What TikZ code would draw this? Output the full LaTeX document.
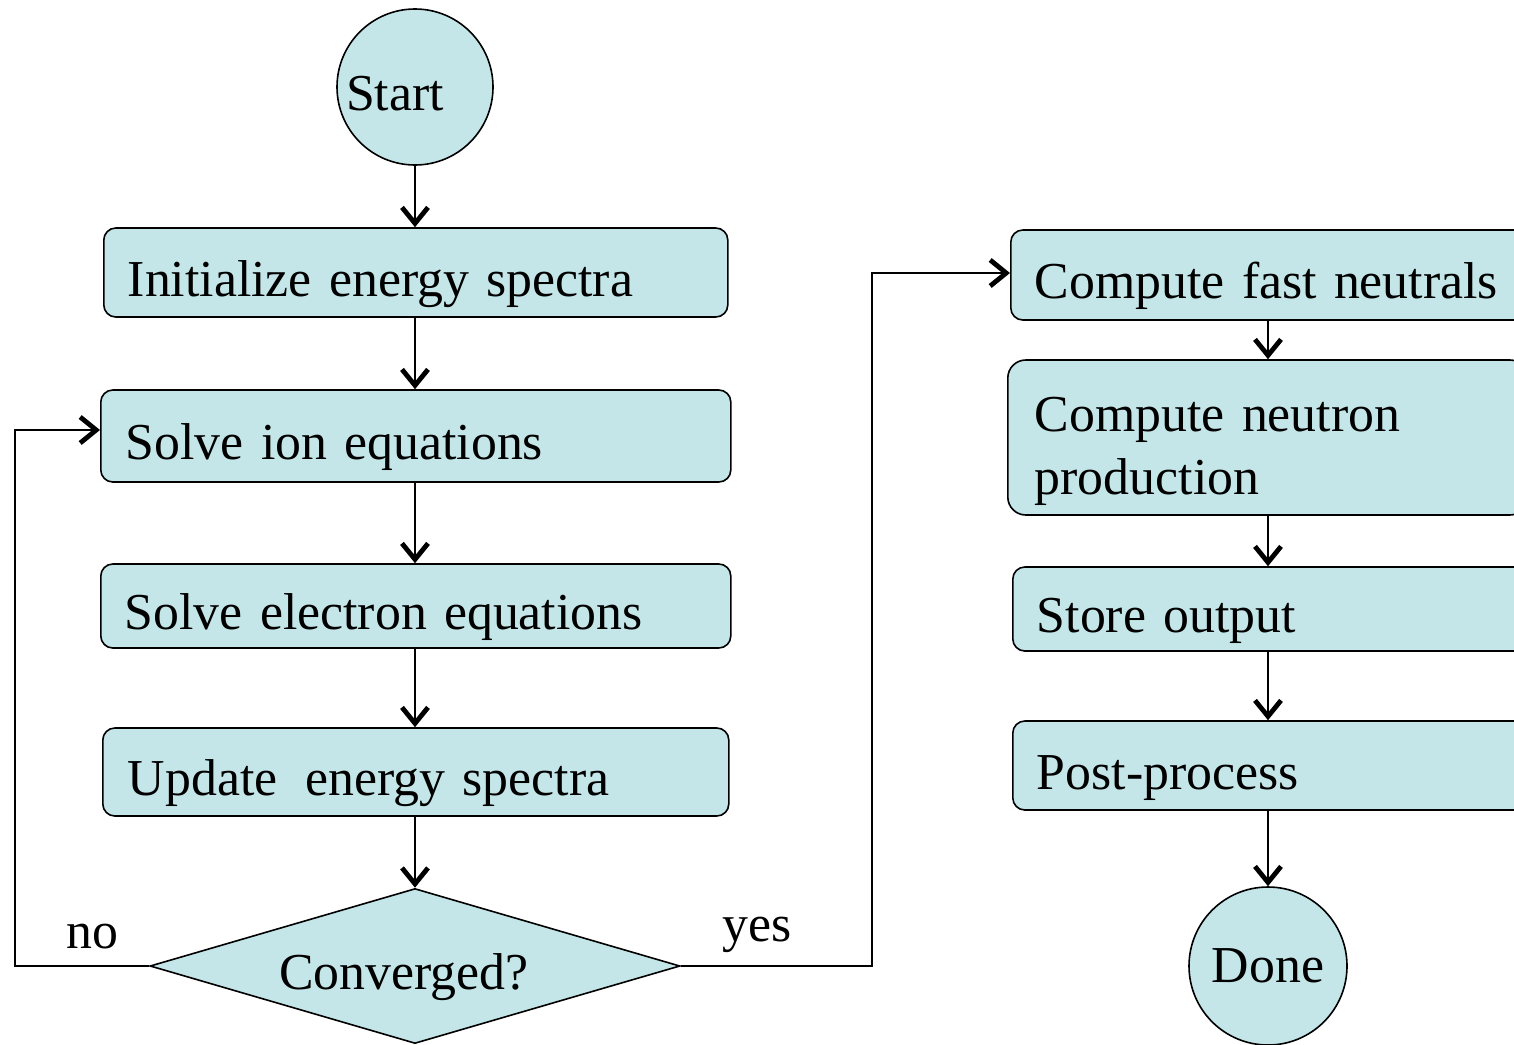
\documentclass[tikz,border=0pt]{standalone}
\usepackage{fontspec}
\setmainfont{Liberation Serif}
\usetikzlibrary{arrows.meta,shapes.geometric}
\definecolor{boxfill}{RGB}{196,230,232}
\begin{document}
\begin{tikzpicture}[x=0.5pt,y=-0.5pt,
  every node/.style={font=\fontsize{25.9}{31.5}\selectfont},
  box/.style={draw, fill=boxfill, line width=0.8pt, rounded corners=6pt, anchor=west,
    align=left, inner ysep=0pt, text height=25pt, text depth=1.5pt},
  term/.style={draw, fill=boxfill, line width=0.8pt, circle, inner sep=0pt},
  dec/.style={draw, fill=boxfill, line width=0.8pt, diamond, aspect=3.42, inner sep=0pt,
    text height=25pt, text depth=1.5pt},
  arr/.style={line width=1pt, -{Straight Barb[length=8pt,width=13pt,line width=2.4pt]}},
  lab/.style={inner sep=0pt}]
\path[use as bounding box, clip] (0,0) rectangle (1514,1044);

% left column
\node[term, minimum size=78pt, text height=25pt, text depth=1.5pt] (st) at (415,87) {Start\kern20pt};
\node[box, minimum width=312pt, minimum height=44.5pt, inner xsep=12pt, text width=288pt] (b1) at (103,272.5) {Initialize energy spectra};
\node[box, minimum width=315pt, minimum height=46pt, inner xsep=12.5pt, text width=290pt] (b2) at (100,436) {Solve ion equations};
\node[box, minimum width=315pt, minimum height=42pt, inner xsep=12pt, text width=291pt] (b3) at (100,606) {Solve electron equations};
\node[box, minimum width=313pt, minimum height=44pt, inner xsep=12.5pt, text width=288pt] (b4) at (102,772) {Update\hspace{14pt}energy spectra};
\node[dec, minimum width=265pt, minimum height=77.5pt] (cv) at (415,966) {Converged?\kern11pt};

% right column
\node[box, minimum width=260pt, minimum height=45pt, inner xsep=12pt, text width=236pt] (r1) at (1010,275) {Compute fast neutrals};
\node[box, rounded corners=9pt, minimum width=260pt, minimum height=77.5pt, inner xsep=13.5pt, text width=233pt, text height=13.5pt, text depth=20pt] (r2) at (1007,437.5) {Compute neutron\\production};
\node[box, minimum width=260pt, minimum height=42pt, inner xsep=12pt, text width=236pt] (r3) at (1012,609) {Store output};
\node[box, minimum width=260pt, minimum height=44.5pt, inner xsep=12pt, text width=236pt] (r4) at (1012,765.5) {Post-process};
\node[term, minimum size=79pt] (dn) at (1268,966) {Done};

% labels
\node[lab] (no) at (92,937) {no};
\node[lab] (yes) at (757,935) {yes};

% connectors
\draw[arr] (st.south) -- (b1.north -| st.south);
\draw[arr] (b1.south -| st.south) -- (b2.north -| st.south);
\draw[arr] (b2.south -| st.south) -- (b3.north -| st.south);
\draw[arr] (b3.south -| st.south) -- (b4.north -| st.south);
\draw[arr] (b4.south -| st.south) -- (cv.north);

\draw[arr] (r1.south -| dn.north) -- (r2.north -| dn.north);
\draw[arr] (r2.south -| dn.north) -- (r3.north -| dn.north);
\draw[arr] (r3.south -| dn.north) -- (r4.north -| dn.north);
\draw[arr] (r4.south -| dn.north) -- (dn.north);

\coordinate (nl) at (15,430);
\coordinate (yl) at (872,273);
\draw[arr] (cv.west) -- (15,966) -- (nl) -- (nl -| b2.west);
\draw[arr] (cv.east) -- (872,966) -- (yl) -- (yl -| r1.west);
\end{tikzpicture}
\end{document}
